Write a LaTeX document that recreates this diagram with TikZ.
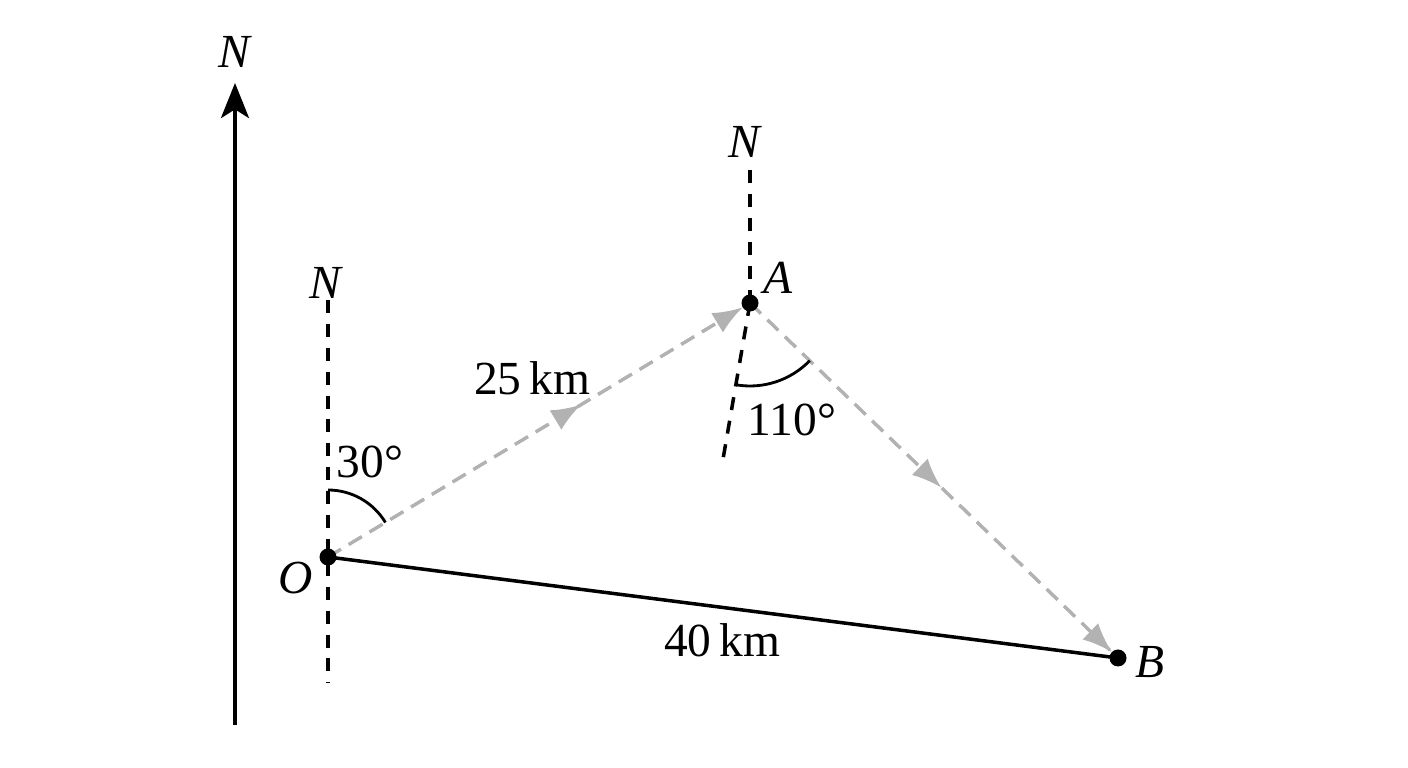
\documentclass[tikz,border=0pt]{standalone}
\usepackage{fontspec}
\setmainfont{Liberation Serif}
\usetikzlibrary{arrows.meta,decorations.markings,calc}

\tikzset{
    northline/.style={dash pattern=on 3.7pt off 3.1pt,line width=1pt},
    path/.style={black!30,line width=0.9pt,dash pattern=on 4.3pt off 2.6pt},
    pathtip/.style={-{Latex[length=8.5pt,width=6.5pt]},shorten >=2.4pt},
    midtip/.style={postaction={decorate},decoration={markings,
        mark=at position #1 with {\arrow{Latex[length=8.5pt,width=6.5pt]}}}},
    label/.style={font=\fontsize{13.5}{16}\selectfont,inner sep=1pt},
}

\begin{document}
\begin{tikzpicture}

    \useasboundingbox (0,0) rectangle (14.08,7.68);

    %points:
    \coordinate (O) at (3.28,2.11);
    \coordinate (A) at (7.50,4.65);
    \coordinate (B) at (11.18,1.10);

    %big north arrow:
    \coordinate (bigS) at (2.35,0.43);
    \coordinate (bigN) at (2.35,6.85);
    \draw[line width=0.9pt,-{Stealth[length=10pt,width=8pt,inset=2.5pt]}] (bigS) -- (bigN);
    \node[label] (Nbig) at (2.35,7.16) {\textit{N}};

    %north lines:
    \coordinate (Otop) at (3.28,4.68);
    \coordinate (Obot) at (3.28,0.85);
    \draw[northline] (Otop) -- (Obot);
    \node[label] (NO) at (3.26,4.85) {\textit{N}};

    \coordinate (Atop) at (7.50,6.03);
    \coordinate (Abot) at (7.22,3.03);
    \draw[northline] (A) -- (Atop);
    \draw[northline] (A) -- (Abot);
    \node[label] (NA) at (7.45,6.26) {\textit{N}};

    %journey:
    \draw[path,midtip=0.6] (O) -- (A);
    \draw[path,pathtip] (O) -- (A);
    \draw[path,midtip=0.52] (A) -- (B);
    \draw[path,pathtip] (A) -- (B);

    \draw[line width=1pt] (O) -- (B);

    %angles:
    \draw[line width=0.8pt] ($(O)+(0,0.67)$) arc (90:31:0.67);
    \draw[line width=0.8pt] ($(A)+(260.2:0.83)$) arc (260.2:316:0.83);

    %dots:
    \fill (O) circle (0.085);
    \fill (A) circle (0.085);
    \fill (B) circle (0.085);

    %labels:
    \node[label] (lO) at (2.96,1.90) {\textit{O}};
    \node[label] (lA) at (7.78,4.90) {\textit{A}};
    \node[label] (lB) at (11.50,1.06) {\textit{B}};
    \node[label] (dOA) at (5.32,3.90) {25\,km};
    \node[label] (dOB) at (7.22,1.28) {40\,km};
    \node[label] (aO) at (3.70,3.06) {30°};
    \node[label] (aA) at (7.92,3.48) {110°};

\end{tikzpicture}
\end{document}
